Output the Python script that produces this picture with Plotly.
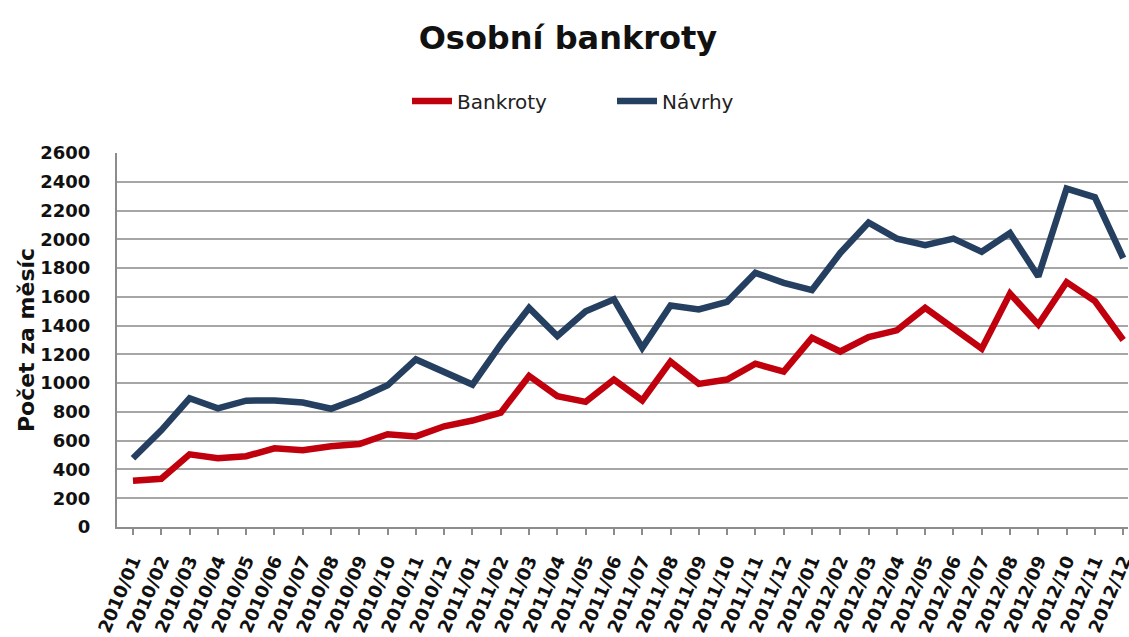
import plotly.graph_objects as go

months = [f"{y}/{m:02d}" for y in (2010, 2011, 2012) for m in range(1, 13)]

bankroty = [322, 335, 505, 478, 492, 547, 533, 562, 577, 645, 630, 700,
            740, 795, 1050, 910, 870, 1025, 880, 1150, 995, 1025, 1135, 1080,
            1315, 1220, 1320, 1367, 1523, 1380, 1240, 1623, 1407, 1702, 1570, 1300]

navrhy = [478, 672, 895, 825, 878, 880, 865, 822, 895, 985, 1165, 1078,
          990, 1270, 1523, 1328, 1500, 1583, 1245, 1540, 1512, 1565, 1767, 1697,
          1647, 1905, 2116, 2005, 1960, 2005, 1913, 2043, 1742, 2353, 2292, 1870]

RED = "#C0000C"
BLUE = "#243F60"
FONT = "DejaVu Sans"

fig = go.Figure()
fig.add_trace(go.Scatter(x=months, y=bankroty, name="Bankroty", mode="lines",
                         line=dict(color=RED, width=6.5)))
fig.add_trace(go.Scatter(x=months, y=navrhy, name="Návrhy", mode="lines",
                         line=dict(color=BLUE, width=6.5)))

fig.update_layout(
    width=1129, height=637,
    margin=dict(l=117, r=1, t=153, b=110),
    paper_bgcolor="white", plot_bgcolor="white",
    title=dict(text="<b>Osobní bankroty</b>", x=0.503, xanchor="center",
               y=1 - 38 / 637, yanchor="middle", yref="container",
               font=dict(family=FONT, size=32, color="#111111")),
    legend=dict(orientation="h", xref="container", yref="container",
                x=407 / 1129, xanchor="left", y=1 - 101 / 637, yanchor="middle",
                font=dict(family=FONT, size=20, color="#222222"),
                itemwidth=40, entrywidth=150, entrywidthmode="pixels",
                bgcolor="rgba(0,0,0,0)"),
    showlegend=True,
)

fig.update_xaxes(
    type="category", range=[-0.565, 35.17], automargin=False,
    tickangle=-67, tickfont=dict(family=FONT, size=18, color="#111111", weight="bold"),
    ticks="outside", ticklen=6, tickcolor="#8C8C8C", tickwidth=1.5,
    showline=True, linecolor="#8C8C8C", linewidth=2, showgrid=False,
    ticklabelstandoff=8,
)
fig.update_yaxes(
    range=[0, 2600], dtick=200, automargin=False,
    tickfont=dict(family=FONT, size=18, color="#111111", weight="bold"),
    showgrid=True, gridcolor="#A6A6A6", gridwidth=1.5,
    showline=True, linecolor="#8C8C8C", linewidth=2, zeroline=False,
    ticks="", ticklabelstandoff=21,
    title=dict(text="<b>Počet za měsíc</b>", standoff=0,
               font=dict(family=FONT, size=22, color="#111111")),
)

fig.write_html("out.html")
